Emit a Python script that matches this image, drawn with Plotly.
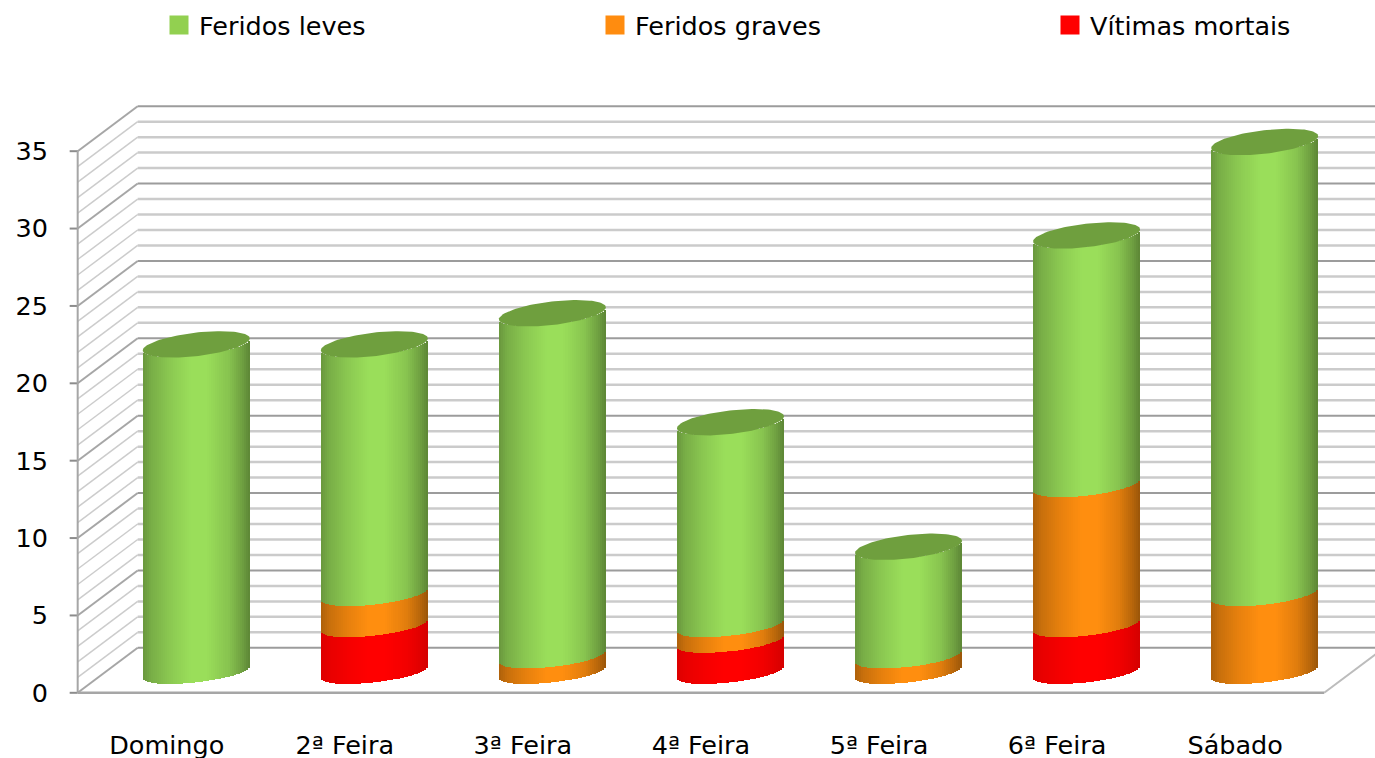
import numpy as np
import plotly.graph_objects as go

categories = ["Domingo", "2ª Feira", "3ª Feira", "4ª Feira", "5ª Feira", "6ª Feira", "Sábado"]
vitimas_mortais = [0, 3, 0, 2, 0, 3, 0]
feridos_graves = [0, 2, 1, 1, 1, 9, 5]
feridos_leves = [21, 16, 22, 13, 7, 16, 29]
y_ticks = [0, 5, 10, 15, 20, 25, 30, 35]

FONT = "DejaVu Sans"
FS = 25.5
# geometry in data units
PX_X = 178.1
PX_Y = 15.475
DX = 60 / PX_X        # wall depth
DY = 45 / PX_Y
CDX = 29.5 / PX_X     # cylinder centre inside the depth
CDY = 21 / PX_Y
HW = 53.5 / PX_X      # cylinder half width
TILT = 6 / PX_Y
B = 10.6 / PX_Y
CAP_B = 11.8 / PX_Y
CAP_UP = 0.5 / PX_Y
S = 1.006             # the cylinders stand a touch taller than the tick spacing
N = 53

stops_u = [-1, -0.85, -0.5, -0.1, 0.2, 0.6, 0.85, 1]
stops_f = [0.68, 0.78, 0.90, 1, 1, 0.88, 0.72, 0.60]


def shade(base, u, k):
    f = np.interp(u, stops_u, stops_f)
    f = 1 - (1 - f) * k
    return "rgb(%d,%d,%d)" % tuple(int(round(c * f)) for c in base)


series = [
    ("Vítimas mortais", vitimas_mortais, (255, 0, 0), 0.42, "#FF0000", "legend3"),
    ("Feridos graves", feridos_graves, (255, 142, 15), 1.0, "#FF8C0F", "legend2"),
    ("Feridos leves", feridos_leves, (154, 222, 90), 1.0, "#92D050", "legend"),
]

fig = go.Figure()
us = (np.arange(N) + 0.5) / N * 2 - 1
sw = 2 * HW / N
cum = [0] * len(categories)
for name, vals, base, k, _, _ in series:
    xs, bases, ys, cols = [], [], [], []
    for i, v in enumerate(vals):
        if v > 0:
            for u in us:
                off = TILT * u - B * np.sqrt(1 - u * u)
                xs.append(i + CDX + u * HW)
                bases.append(cum[i] * S + CDY + off)
                ys.append(v * S)
                cols.append(shade(base, u, k))
            cum[i] += v
    fig.add_trace(go.Bar(x=xs, y=ys, base=bases, width=sw, showlegend=False, hoverinfo="skip",
                         marker=dict(color=cols, line=dict(width=0))))

# top caps
t = np.linspace(0, 2 * np.pi, 120)
for i, total in enumerate(cum):
    fig.add_trace(go.Scatter(
        x=i + CDX + HW * np.cos(t),
        y=total * S + CDY + CAP_UP + TILT * np.cos(t) + CAP_B * np.sin(t),
        mode="lines", fill="toself", fillcolor="#6F9F3E", line=dict(width=0),
        showlegend=False, hoverinfo="skip"))

# legend entries
for name, vals, base, k, col, lg in reversed(series):
    fig.add_trace(go.Scatter(x=[None], y=[None], mode="markers", name=name, legend=lg,
                             marker=dict(symbol="square", size=16, color=col,
                                         line=dict(color=col, width=3))))

# walls, floor and gridlines
x0 = -0.5
x1 = len(categories) - 0.5
xback = 7.2
shapes = []


def line(xa, ya, xb, yb, color, width):
    shapes.append(dict(type="line", xref="x", yref="y", x0=xa, y0=ya, x1=xb, y1=yb,
                       layer="below", line=dict(color=color, width=width)))


for lv in range(0, y_ticks[-1] + 1):
    major = lv % 5 == 0
    line(x0, lv, x0 + DX, lv + DY, "#a6a6a6" if major else "#cccccc", 2 if major else 1.5)
    line(x0 + DX, lv + DY, xback, lv + DY, "#9c9c9c" if major else "#cbcbcb", 2 if major else 2.5)
for tk in y_ticks:
    line(x0 - 0.045, tk, x0, tk, "#8c8c8c", 2)
line(x0, 0, x0, y_ticks[-1], "#a6a6a6", 2)
line(x0, 0, x1, 0, "#a6a6a6", 2.5)
line(x1, 0, x1 + DX, DY, "#bcbcbc", 2)

LEGEND_Y = 1 - 2 / 758
fig.update_layout(
    width=1375, height=758, autosize=False,
    margin=dict(l=67, r=0, t=80, b=59, pad=0, autoexpand=False),
    paper_bgcolor="white", plot_bgcolor="white",
    barmode="overlay", bargap=0,
    font=dict(family=FONT, size=FS, color="black"),
    shapes=shapes,
    xaxis=dict(range=[-0.56, (1375 - 77.5) / PX_X - 0.5], tickmode="array",
               tickvals=list(range(len(categories))), ticktext=categories, automargin=False,
               showgrid=False, zeroline=False, showline=False, ticks="",
               ticklabelstandoff=28, tickfont=dict(family=FONT, size=FS, color="black")),
    yaxis=dict(range=[-0.4, 39.6], tickmode="array", tickvals=y_ticks, automargin=False,
               showgrid=False, zeroline=False, showline=False, ticks="",
               ticklabelstandoff=18, tickfont=dict(family=FONT, size=FS, color="black")),
    showlegend=True,
    legend=dict(x=159 / 1375, y=LEGEND_Y, xref="container", yref="container", yanchor="top",
                xanchor="left", orientation="h", bgcolor="rgba(0,0,0,0)", font=dict(size=FS)),
    legend2=dict(x=595 / 1375, y=LEGEND_Y, xref="container", yref="container", yanchor="top",
                 xanchor="left", orientation="h", bgcolor="rgba(0,0,0,0)", font=dict(size=FS)),
    legend3=dict(x=1050 / 1375, y=LEGEND_Y, xref="container", yref="container", yanchor="top",
                 xanchor="left", orientation="h", bgcolor="rgba(0,0,0,0)", font=dict(size=FS)),
)

fig.write_html("out.html", post_script="document.body.style.margin='0';document.body.style.overflow='hidden';",
               config={"displayModeBar": False})
